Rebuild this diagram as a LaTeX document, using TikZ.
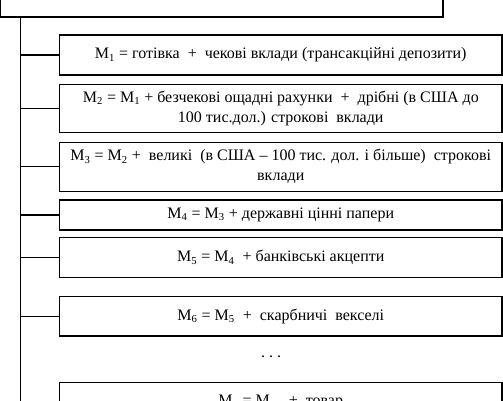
\documentclass[tikz,border=0pt]{standalone}
\usepackage{fontspec}
\setmainfont{Liberation Serif}

\begin{document}
\begin{tikzpicture}[x=0.75pt,y=-0.75pt,
    box/.style = {rectangle,draw,line width=0.8pt,minimum width=331.9pt,inner sep=0pt,outer sep=0mm,align=center,font=\fontsize{12}{15}\selectfont},
    branch/.style = {line width=0.8pt}]
\useasboundingbox (0,0) rectangle (503,400);
\clip (0,0) rectangle (503,400);
\node[box,minimum height=36pt,font=\fontsize{12}{15}\selectfont\bfseries] (title) at (221.75,-7) {Грошові агрегати};
\coordinate (trunk) at (20.7,0);
\node[box,minimum height=30pt] (m1) at (280.75,55) {M\textsubscript{1} = готівка \ + \ чекові вклади (трансакційні депозити)};
\node[box,minimum height=36.3pt] (m2) at (280.75,108.5) {M\textsubscript{2} = M\textsubscript{1} + безчекові ощадні рахунки \ + \ дрібні (в США до\\100 тис.дол.) строкові \ вклади};
\node[box,minimum height=36.5pt] (m3) at (280.75,166.7) {M\textsubscript{3} = M\textsubscript{2} + \ великі \ (в США – 100 тис. дол. і більше) \ строкові\\вклади};
\node[box,minimum height=22.5pt] (m4) at (280.75,215) {M\textsubscript{4} = M\textsubscript{3} + державні цінні папери};
\node[box,minimum height=30pt] (m5) at (280.75,257.7) {M\textsubscript{5} = M\textsubscript{4} \ + банківські акцепти};
\node[box,minimum height=29.5pt] (m6) at (280.75,316.3) {M\textsubscript{6} = M\textsubscript{5} \ + \ скарбничі \ векселі};
\node[font=\fontsize{12}{15}\selectfont] (dots) at (271,357) {.\ .\ .};
\node[box,minimum height=30pt] (m7) at (280.75,402.3) {M\textsubscript{n} = M\textsubscript{n-1} + \ товар};
% trunk and branches
\draw[branch] (title.south -| trunk) -- (m7.west -| trunk);
\foreach \b in {m1,m2,m3,m4,m5,m6,m7} \draw[branch] (\b.west -| trunk) -- (\b.west);
\end{tikzpicture}
\end{document}
